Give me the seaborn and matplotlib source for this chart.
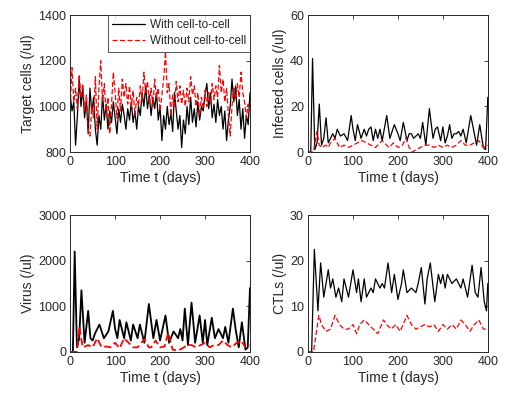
import numpy as np
import pandas as pd
import seaborn as sns
import matplotlib
matplotlib.use("Agg")
import matplotlib.pyplot as plt

# target cells, sampled every 4 days from 0 to 400
target_with = [1050, 980, 1020, 830, 960, 1120, 1000, 1080, 950, 1030, 880, 1080, 970, 1040, 900, 830,
               960, 900, 1050, 940, 1010, 900, 980, 930, 1020, 950, 880, 990, 930, 1010, 960, 900,
               990, 940, 1020, 930, 980, 900, 1000, 960, 1060, 1000, 1090, 990, 1050, 960, 1040, 990,
               1060, 940, 1000, 850, 960, 900, 1000, 920, 970, 890, 1060, 980, 900, 960, 820, 940,
               880, 1000, 920, 1040, 930, 990, 910, 1020, 940, 1000, 980, 1050, 1100, 990, 1060, 950,
               1010, 930, 1030, 960, 1000, 900, 980, 850, 940, 1000, 1120, 1020, 1090, 960, 1030, 900,
               990, 860, 960, 920, 1060]
target_without = [1000, 1170, 1020, 1080, 990, 1140, 1040, 1100, 980, 1050, 900, 870, 1000, 950, 1130, 900,
                  1080, 1200, 1020, 1100, 960, 1040, 880, 1010, 1150, 1060, 950, 1080, 980, 1120, 1040, 1100,
                  1010, 1090, 1000, 1070, 960, 1040, 1000, 1090, 1020, 1150, 1060, 1110, 1010, 1080, 1000, 1120,
                  1040, 1080, 980, 1050, 1120, 1240, 1060, 1100, 960, 1050, 1000, 1110, 1020, 1090, 1010, 1070,
                  1000, 1080, 1020, 1130, 1050, 1090, 1000, 1060, 960, 1040, 990, 1070, 1000, 1060, 1010, 1100,
                  1030, 1090, 1040, 1180, 1060, 1120, 1020, 1080, 960, 870, 1000, 1080, 1030, 1100, 1040, 1150,
                  1060, 1020, 950, 1010, 980]

# infected cells
inf_with_t = [0, 6, 10, 15, 20, 25, 30, 35, 40, 45, 50, 55, 60, 65, 72, 80, 88, 96, 100, 105, 110, 118, 125,
              130, 135, 140, 145, 150, 155, 160, 165, 175, 182, 187, 192, 200, 205, 212, 220, 225, 230, 235,
              240, 245, 250, 255, 262, 270, 278, 283, 288, 295, 300, 305, 310, 315, 320, 325, 330, 335, 340,
              345, 352, 362, 368, 375, 382, 390, 395, 400]
inf_with = [0, 0, 41, 1, 4, 21, 3, 6, 15, 4, 6, 8, 6, 10, 7, 8, 5, 16, 10, 5, 12, 6, 10,
            7, 10, 11, 5, 10, 6, 10, 5, 16, 6, 9, 12, 8, 5, 13, 5, 8, 8, 6,
            7, 8, 6, 13, 3, 19, 6, 10, 11, 5, 11, 4, 7, 12, 6, 8, 8, 9, 7,
            10, 4, 16, 10, 3, 12, 2, 1, 24]
inf_without_t = [0, 12, 15, 20, 25, 30, 40, 45, 50, 60, 70, 80, 90, 100, 110, 120, 130, 140, 150, 165, 175,
                 180, 190, 200, 210, 218, 225, 232, 240, 250, 260, 270, 280, 290, 300, 310, 320, 330, 340,
                 350, 360, 370, 380, 390, 400]
inf_without = [0, 0, 4, 9, 3, 2, 3, 2, 4, 6, 2, 3, 2, 3, 4, 5, 4, 3, 2, 5, 3,
               2, 4, 2, 3, 6, 2, 0, 1, 2, 3, 3, 2, 3, 2, 3, 2, 3, 5,
               3, 3, 4, 5, 2, 3]

# virus
vir_with_t = [0, 6, 10, 15, 20, 25, 32, 40, 45, 50, 55, 65, 75, 85, 95, 100, 105, 110, 120, 125, 135, 140,
              150, 155, 165, 175, 185, 192, 200, 212, 220, 230, 240, 245, 250, 255, 262, 270, 278, 288, 295,
              300, 305, 315, 322, 330, 340, 345, 352, 362, 368, 375, 382, 390, 395, 400]
vir_with = [0, 0, 2200, 100, 300, 1350, 200, 900, 300, 250, 400, 600, 300, 450, 900, 500, 300, 700, 300, 650, 250, 600,
            300, 600, 200, 1050, 300, 700, 250, 800, 200, 450, 300, 500, 250, 950, 150, 1080, 200, 800, 200,
            700, 150, 750, 300, 500, 300, 550, 200, 950, 500, 100, 650, 50, 100, 1400]
vir_without_t = [0, 15, 20, 28, 40, 50, 60, 70, 80, 90, 100, 110, 120, 130, 140, 150, 165, 175, 180, 190, 200,
                 210, 218, 228, 240, 250, 260, 270, 280, 290, 300, 310, 320, 330, 340, 350, 360, 370, 380,
                 390, 400]
vir_without = [0, 0, 550, 100, 150, 100, 300, 100, 120, 100, 200, 80, 300, 200, 100, 100, 280, 100, 100, 250, 100,
               120, 420, 50, 30, 80, 150, 150, 100, 150, 200, 100, 150, 150, 250, 150, 100, 200, 250,
               100, 150]

# CTLs
ctl_with_t = [0, 8, 14, 22, 28, 35, 45, 50, 55, 62, 68, 75, 80, 90, 100, 108, 112, 118, 125, 130, 140, 145,
              150, 160, 165, 170, 178, 186, 192, 200, 208, 212, 220, 230, 240, 245, 252, 260, 265, 272, 282,
              290, 295, 300, 305, 310, 320, 330, 340, 345, 355, 365, 372, 378, 385, 392, 397, 400]
ctl_with = [0, 0, 22.5, 9, 19.5, 12, 18, 14, 16, 12, 14, 11, 16, 12, 18, 13, 16, 11, 16, 12, 14, 13,
            16, 14, 15, 14, 19.5, 13, 17, 11.5, 15, 18, 13, 14, 13, 15, 18.5, 10.5, 16, 19.5, 11,
            17, 15, 17, 14, 17, 15, 16, 14, 16, 12, 19, 13, 12, 18.5, 11, 9, 15]
ctl_without_t = [0, 12, 18, 24, 30, 40, 50, 60, 70, 80, 90, 100, 108, 115, 125, 135, 145, 155, 168, 175, 185,
                 195, 205, 220, 230, 240, 250, 260, 270, 280, 290, 300, 310, 320, 330, 340, 350, 360, 370,
                 380, 390, 400]
ctl_without = [0, 0, 4, 8, 6, 4.5, 5, 8, 6, 5, 5, 6, 4, 6, 7, 6, 5, 4, 7, 6, 5,
               6, 4.5, 8, 6, 5, 5.5, 6, 5.5, 6, 4.5, 6, 5, 6, 5, 7, 6, 4.5, 6,
               7, 5, 5]

labels = ["With cell-to-cell", "Without cell-to-cell"]


def series_frame(t1, y1, t2, y2):
    a = pd.DataFrame({"t": t1, "y": y1, "case": labels[0]})
    b = pd.DataFrame({"t": t2, "y": y2, "case": labels[1]})
    return pd.concat([a, b], ignore_index=True)


sns.set_style("white")
plt.rcParams["font.family"] = ["Liberation Sans", "DejaVu Sans"]

fig = plt.figure(figsize=(5.05, 3.99), dpi=100)
boxes = [(0.139, 0.619), (0.610, 0.619), (0.139, 0.118), (0.610, 0.118)]
w, h = 0.356, 0.343

days4 = np.linspace(0, 400, len(target_with))
panels = [
    (series_frame(days4, target_with, np.linspace(0, 400, len(target_without)), target_without),
     "Target cells (/ul)", (800, 1400), [800, 1000, 1200, 1400]),
    (series_frame(inf_with_t, inf_with, inf_without_t, inf_without),
     "Infected cells (/ul)", (0, 60), [0, 20, 40, 60]),
    (series_frame(vir_with_t, vir_with, vir_without_t, vir_without),
     "Virus (/ul)", (0, 3000), [0, 1000, 2000, 3000]),
    (series_frame(ctl_with_t, ctl_with, ctl_without_t, ctl_without),
     "CTLs (/ul)", (0, 30), [0, 10, 20, 30]),
]

ink = "#262626"
for i, ((df, ylab, ylim, yt), (x0, y0)) in enumerate(zip(panels, boxes)):
    ax = fig.add_axes([x0, y0, w, h])
    sns.lineplot(data=df, x="t", y="y", hue="case", style="case",
                 palette=["black", "red"], dashes=[(None, None), (4, 2)],
                 estimator=None, sort=False, lw=0.9 if i != 2 else 1.3, ax=ax)
    ax.set_xlim(0, 400)
    ax.set_ylim(*ylim)
    ax.set_xticks([0, 100, 200, 300, 400])
    ax.set_yticks(yt)
    ax.set_xlabel("Time t (days)", fontsize=10, color=ink, labelpad=2)
    ax.set_ylabel(ylab, fontsize=10, color=ink, labelpad=2)
    ax.tick_params(direction="in", length=3, width=0.6, top=True, right=True,
                   labelsize=9, colors=ink, pad=3)
    for s in ax.spines.values():
        s.set_linewidth(0.7)
        s.set_color(ink)
    if i == 0:
        leg = ax.legend(loc="upper right", fontsize=8.5, frameon=True, fancybox=False,
                        borderaxespad=0, handlelength=2.8, borderpad=0.35, labelspacing=0.35,
                        handletextpad=0.4)
        leg.get_frame().set_edgecolor(ink)
        leg.get_frame().set_linewidth(0.7)
    else:
        ax.get_legend().remove()

fig.savefig("out.png", dpi=100)
